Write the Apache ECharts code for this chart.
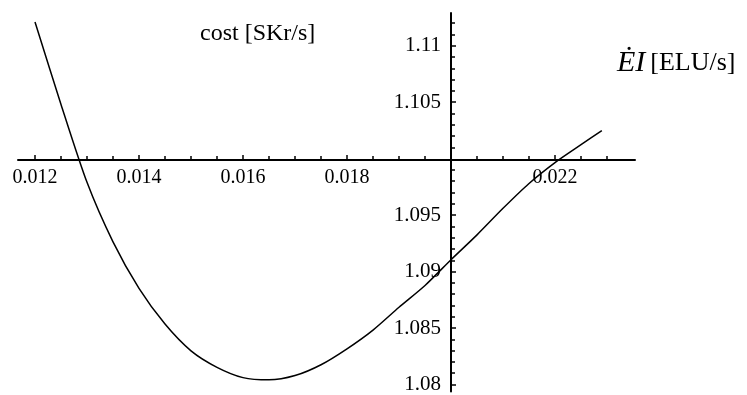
<!DOCTYPE html>
<html>
<head>
<meta charset="utf-8">
<script src="https://cdn.jsdelivr.net/npm/echarts@6/dist/echarts.min.js"></script>
<style>
  html, body { margin: 0; padding: 0; background: #fff; }
  #chart { width: 747px; height: 395px; }
</style>
</head>
<body>
<div id="chart"></div>
<script>
// Operating cost against energy input rate
const eiRate = [0.012, 0.0125, 0.013, 0.0135, 0.014, 0.0145, 0.015, 0.0155, 0.016, 0.0165,
                0.017, 0.0175, 0.018, 0.0185, 0.019, 0.0195, 0.02, 0.0205, 0.021, 0.0215,
                0.022, 0.0225, 0.0229];
const cost = [1.1121, 1.1048, 1.0979, 1.09263, 1.08851, 1.08535, 1.08298, 1.08152, 1.08061, 1.08041,
              1.08079, 1.08175, 1.08316, 1.08482, 1.08684, 1.08877, 1.09105, 1.09325, 1.0956, 1.0978,
              1.09965, 1.10123, 1.10248];

// Labelled ticks (the origin is left unlabelled)
const xTickValues = [0.012, 0.014, 0.016, 0.018, 0.022];
const xTickLabels = ['0.012', '0.014', '0.016', '0.018', '0.022'];
const yTickValues = [1.08, 1.085, 1.09, 1.095, 1.105, 1.11];
const yTickLabels = ['1.08', '1.085', '1.09', '1.095', '1.105', '1.11'];

// Where the two axes cross
const originX = 0.02;
const originY = 1.1;

// Visible extent of the axes
const xMin = 0.011673, xMax = 0.023538;
const yMin = 1.079386, yMax = 1.112895;

// Minor ticks: x every 0.0005, y every 0.001
function minorTicks(from, to, step, skip) {
  const out = [];
  const n = Math.round((to - from) / step);
  for (let i = 0; i <= n; i++) {
    const v = +(from + i * step).toFixed(6);
    if (!skip.some(s => Math.abs(s - v) < step / 10)) out.push(v);
  }
  return out;
}
const xMinor = minorTicks(0.012, 0.023, 0.0005, xTickValues.concat([originX]));
const yMinor = minorTicks(1.08, 1.112, 0.001, yTickValues.concat([originY]));

const W = 747, H = 395;
const grid = { left: 18, right: 112, top: 13, bottom: 0 };
const gridW = W - grid.left - grid.right;
const gridH = H - grid.top - grid.bottom;
// shift the axis lines so they pass through the origin point
const xAxisOffset = -(yMax - originY) / (yMax - yMin) * gridH;
const yAxisOffset = -(originX - xMin) / (xMax - xMin) * gridW;

const serif = 'Liberation Serif';
const ink = '#000';

function xAxisDef(ticks, major) {
  return {
    type: 'value', min: xMin, max: xMax, position: 'top', offset: xAxisOffset,
    splitLine: { show: false },
    axisLine: { show: major, onZero: false, lineStyle: { color: ink, width: 2 } },
    axisTick: { show: true, customValues: ticks, length: major ? 5 : 4, inside: false,
                lineStyle: { color: ink, width: 1.5 } },
    axisLabel: major ? {
      show: true, customValues: xTickValues, inside: true, margin: 8,
      color: ink, fontFamily: serif, fontSize: 20,
      formatter: v => xTickLabels[xTickValues.findIndex(t => Math.abs(t - v) < 1e-9)]
    } : { show: false }
  };
}
function yAxisDef(ticks, major) {
  return {
    type: 'value', min: yMin, max: yMax, position: 'left', offset: yAxisOffset,
    splitLine: { show: false },
    axisLine: { show: major, onZero: false, lineStyle: { color: ink, width: 2 } },
    axisTick: { show: true, customValues: ticks, length: major ? 5 : 4, inside: true,
                lineStyle: { color: ink, width: 1.5 } },
    axisLabel: major ? {
      show: true, customValues: yTickValues, inside: false, margin: 10,
      color: ink, fontFamily: serif, fontSize: 21,
      formatter: v => yTickLabels[yTickValues.findIndex(t => Math.abs(t - v) < 1e-9)]
    } : { show: false }
  };
}

const chart = echarts.init(document.getElementById('chart'), null, { renderer: 'canvas' });
chart.setOption({
  animation: false,
  backgroundColor: '#fff',
  title: [
    {
      text: 'cost [SKr/s]', left: 195, top: 17,
      textStyle: { fontFamily: serif, fontSize: 24, fontWeight: 'normal', color: ink }
    },
    {
      text: '{it|ĖI} {rm|[ELU/s]}', left: 612, top: 43,
      textStyle: {
        fontWeight: 'normal',
        rich: {
          it: { fontFamily: serif, fontStyle: 'italic', fontWeight: 'normal', fontSize: 30, color: ink },
          rm: { fontFamily: serif, fontWeight: 'normal', fontSize: 26, color: ink }
        }
      }
    }
  ],
  grid: grid,
  xAxis: [xAxisDef(xTickValues, true), xAxisDef(xMinor, false)],
  yAxis: [yAxisDef(yTickValues, true), yAxisDef(yMinor, false)],
  series: [{
    type: 'line',
    xAxisIndex: 0, yAxisIndex: 0,
    data: eiRate.map((x, i) => [x, cost[i]]),
    showSymbol: false,
    smooth: 0.25,
    lineStyle: { color: ink, width: 1.5 },
    silent: true
  }]
});
</script>
</body>
</html>
